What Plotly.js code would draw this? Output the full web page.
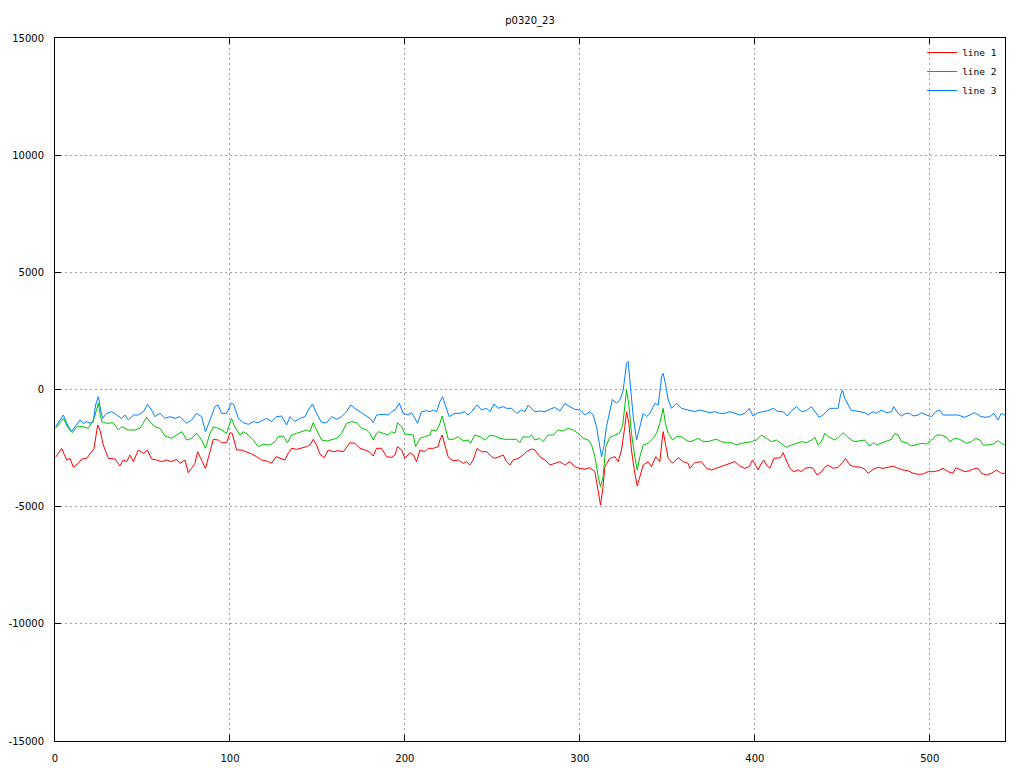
<!DOCTYPE html>
<html>
<head>
<meta charset="utf-8">
<script src="https://cdn.plot.ly/plotly-3.0.1.min.js"></script>
<style>html,body{margin:0;padding:0;background:#fff;}#chart{width:1024px;height:768px;}</style>
</head>
<body>
<div id="chart"></div>
<script>
const chartTitle = "p0320_23";
const seriesNames = ["line 1", "line 2", "line 3"];
const seriesColors = ["#ff0000", "#00c000", "#0080ff"];

// line 1 (red)
const x1 = [0.3,3.8,6.7,8.6,10.5,13.3,15.2,18.1,21,22.3,24.4,25.7,27.6,30.5,34.3,37.1,39,41,42.9,44.8,47.6,50.5,52.8,55.2,58.1,61,63.8,66.7,69.5,71.4,74.3,76.2,78.1,80,81.5,83.8,86,88.6,
90.5,93.3,95.2,98.1,100,101.3,103.8,106.7,109.5,112.4,115.2,118.1,121,123.8,126.3,128.6,131.4,133.3,135.2,138.1,141,143.8,145.7,147.6,149.5,151.4,153.9,156.2,159,161.9,164.8,166.7,168.6,171.4,174.3,177.1,179.6,181.9,183.8,
186.7,189.5,192.4,194.3,195.8,198.1,200,202.9,204.8,206.7,208.6,211.4,213.3,216.2,219,220,221.3,222.9,224.8,227.6,230.5,233.3,235.2,237.1,239,241.3,243.8,246.7,249.5,251.4,254.3,256.2,258.1,260,261.9,264.8,267.6,269.5,272.4,
274.3,277.1,280,282.9,285.7,288.6,291.4,294.3,297.1,300,302.9,305.7,308.6,310.5,311.8,313,314.3,317.1,320,321.9,323.8,325.7,326.7,328,329.5,331.1,332.8,334.3,336.2,339,340.9,343.4,345.7,347,347.6,348.9,350.5,353,356.2,359,361.9,
362.9,365.7,369.5,372.4,375.2,378.1,381,383.8,386.7,388.6,391.4,394.3,396.8,398.7,400.4,401.9,403.2,405.1,407.1,408.6,410.9,413.3,414.7,416.2,418.1,420,422.3,424.8,426.7,428.6,431.4,433.3,435.6,438.1,440,441.9,444.8,447.6,450.1,451.8,454.3,
457.1,460.9,462.9,464.8,467.6,470.5,473.3,476.2,479,481.9,484.8,487.6,490.5,493.3,496.2,499,501.9,504.8,507.6,510.5,513.3,514.9,517.1,520,522.9,525.7,527.6,529.5,532.4,535.2,538.1,540.9,542.9];
const y1 = [-2895,-2511,-3009,-2938,-3322,-3151,-2966,-2938,-2654,-2511,-1515,-1729,-2369,-2938,-2966,-3265,-3009,-3080,-2796,-3080,-2582,-2725,-2582,-2966,-3009,-3080,-3009,-3080,-2980,-3151,-3009,-3551,-3365,-3151,-2654,-3009,-3365,-2654,
-2126,-2155,-2270,-2270,-1843,-1871,-2582,-2582,-2654,-2753,-2867,-3009,-3051,-3151,-2867,-2938,-3009,-2725,-2511,-2554,-2511,-2441,-2369,-2126,-2369,-2753,-2910,-2582,-2654,-2611,-2654,-2441,-2270,-2297,-2511,-2582,-2654,-2840,-2511,
-2511,-2867,-2895,-2796,-2441,-2582,-2938,-2697,-2796,-3080,-2582,-2654,-2511,-2511,-2441,-2155,-1943,-2369,-2895,-3037,-3009,-3151,-3080,-3222,-3009,-2511,-2654,-2654,-2867,-2938,-2867,-2796,-3080,-3222,-3009,-2938,-2796,-2654,-2540,
-2582,-2868,-3009,-3222,-3151,-3080,-3222,-3080,-3294,-3365,-3400,-3336,-3507,-4289,-4929,-4289,-3294,-2938,-2868,-3080,-2582,-1587,-946,-1444,-2582,-3436,-4119,-3720,-3222,-3080,-3294,-2868,-3080,-2155,-1800,-2297,-2938,-3151,-2910,-3080,-3151,
-3365,-3122,-3080,-3365,-3436,-3365,-3294,-3222,-3122,-3080,-3265,-3365,-3294,-3009,-3222,-3436,-3222,-3009,-3265,-3365,-2938,-2938,-2910,-2697,-3009,-3365,-3507,-3436,-3507,-3365,-3322,-3365,-3649,-3507,-3322,-3222,-3365,-3322,-3122,-2938,-3222,
-3294,-3322,-3408,-3578,-3408,-3322,-3365,-3322,-3265,-3365,-3436,-3465,-3578,-3620,-3606,-3507,-3507,-3465,-3365,-3507,-3578,-3336,-3408,-3507,-3465,-3365,-3365,-3578,-3649,-3578,-3436,-3578,-3578];

// line 2 (green)
const x2 = [0.3,4.8,7.6,9.9,12.4,16.2,19,21.9,22.9,24.8,25.7,26.7,29.5,33.3,36.2,38.1,41.9,45.7,48.6,50.5,52.4,54.3,57.1,60,62.9,66.7,69.5,72.4,75.2,78.1,80.9,83.8,86,88.6,
90.5,92.4,95.2,98.1,100.9,102.8,105.7,107.6,110.5,113.3,116.2,119,122.9,125.7,127.6,130.5,132.8,135.2,138.1,141,143.8,145.7,147.6,149.5,152.4,155.2,158.1,161,163.8,166.7,169.5,172.4,175.2,178.1,180,181.9,183.8,
184.8,187.6,190.5,192.4,194.3,195.8,198.1,200,202.9,204.8,206.1,208.6,211.4,214.3,215.2,218.1,220,221.3,222.9,224.8,227.6,230.5,233.3,236.2,237.5,240,242.9,245.7,248.6,251.4,254.3,257.1,260,263.8,265.7,267.6,270.5,272.4,
274.3,277.1,279,281.9,284.8,287.6,290.5,293.3,296.2,299,301.9,304.8,306.7,308.6,310.5,311.8,313.3,314.8,317.1,320,322.5,324.4,325.7,326.7,328,329.5,331.4,332.8,334.3,336.2,339,341.9,343.8,345.7,347.6,348.9,350.5,353,355.2,358.1,361,
362.9,365.7,367.6,370.5,373.3,376.2,378.1,381,383.8,386.7,389.5,392.4,395.2,398.1,401,403.8,406.7,409.5,412.4,415.2,418.1,421,423.8,426.7,429.5,432.4,434.3,436.2,438.1,440,441.9,443.8,445.7,448.2,450.5,452.4,455.2,
457.1,460,462.9,465.7,468,469.5,472.4,475.2,478.1,480,481.9,483.8,486.7,489.5,492.4,495.2,498.1,501,503.8,506.7,509.5,511.4,514.3,517.1,520.9,523.8,526.3,528.6,530.5,533.3,536.2,539,540.9,542.9];
const y2 = [-1658,-1230,-1658,-1843,-1587,-1587,-1658,-1302,-1088,-590,-1017,-1373,-1444,-1416,-1729,-1587,-1729,-1729,-1658,-1444,-1188,-1373,-1587,-1658,-1985,-2084,-1956,-1800,-2155,-2084,-1871,-2155,-2511,-1871,
-1587,-1630,-1729,-1871,-1230,-1587,-1943,-1800,-1943,-2155,-2441,-2340,-2369,-2226,-2013,-1985,-2270,-1943,-1871,-1800,-1729,-1800,-1416,-1729,-2155,-2200,-2126,-2084,-1871,-1444,-1373,-1416,-1658,-1729,-1871,-2155,-1871,
-1800,-1871,-1943,-1800,-1871,-1416,-1587,-1900,-1943,-1943,-2441,-2084,-2013,-1943,-1729,-1758,-1444,-1131,-1587,-2126,-2126,-2013,-2200,-2155,-2297,-1943,-2013,-2155,-1943,-1985,-2084,-2126,-2126,-2126,-2270,-2013,-2041,-1943,
-2155,-2084,-2226,-1943,-1943,-1729,-1772,-1658,-1729,-1871,-2084,-2155,-2369,-2868,-3720,-4147,-3720,-2441,-2041,-1943,-1871,-1587,-590,-21,-662,-1871,-2868,-3436,-2868,-2369,-2297,-2084,-1871,-1444,-804,-1444,-1871,-2155,-2013,-2013,-2184,
-2226,-2155,-2084,-2226,-2226,-2155,-2126,-2226,-2270,-2270,-2369,-2297,-2270,-2226,-2155,-1943,-2084,-2226,-2155,-2297,-2469,-2369,-2297,-2226,-2270,-2155,-2041,-2369,-2226,-1871,-2013,-2084,-2155,-2013,-1843,-1985,-2155,
-2226,-2184,-2155,-2412,-2270,-2369,-2297,-2200,-2126,-1871,-1943,-2226,-2270,-2412,-2369,-2297,-2326,-2155,-1943,-1943,-2041,-2226,-2084,-2126,-2297,-2226,-2084,-2155,-2369,-2369,-2326,-2184,-2297,-2369];

// line 3 (blue)
const x3 = [0.3,4.8,6.7,9.5,11.4,14.3,16.2,18.1,20,21.9,23.2,24.8,26.1,27.2,29.5,32.4,35.2,38.1,40,41.9,44.8,47.6,50.5,52.9,55.2,57.1,60,62.9,65.7,68.6,71.4,75.2,78.1,80.9,83.8,86,88.6,
91.4,93.3,95.2,98.1,100.9,102.2,104.8,107.6,110.5,113.3,116.2,119,121,123.8,126.7,129.5,132.4,134.3,137.1,140,142.9,144.8,147.2,149.5,152.4,155.2,158.1,161,163.8,166.7,169,171.4,174.3,177.1,180,181.9,183.8,
187.6,190.5,192.4,194.3,196.8,199,201.9,203.8,205.7,207.2,209.5,212.4,214.3,216.2,218.1,220,221.5,223.4,225.3,228.6,231.4,234.3,236.2,238.1,241.3,243.8,246.7,248.6,250.9,253.3,256.2,258.1,261,263.8,266.7,268.6,270.5,273.3,
274.3,277.1,280,282.9,285.7,288.6,291.4,294.3,297.1,300,302.9,305.7,307.6,309.5,311.4,312.4,313.7,315.2,317.1,318.6,320.9,322.9,324.8,326.7,327.6,328.6,330.5,332.4,334.3,336.2,338.1,340,342.9,344.8,346.7,347.6,348.9,350.5,352.4,355.2,358.1,361,363.8,
365.7,368.6,371.4,374.3,377.1,380,382.9,385.7,388.6,391.4,394.3,396.8,399,401.9,404.8,407.6,410.5,413.3,416.2,418.5,421,423.8,426.7,429.5,432.4,434.9,436.8,439,441,442.9,445.7,447.6,449,450.1,451.4,453.3,455.2,
457.1,460,462.9,464.8,467.6,469.5,472.4,475.2,478.1,479.4,481.9,483.8,486.3,488.6,490.5,493.3,495.2,498.1,501,503.4,505.7,507.6,510.5,513.3,516.2,520,522.9,525.7,528.6,531.4,534.3,536.6,539,540.9,542.9];
const y3 = [-1587,-1088,-1444,-1800,-1587,-1302,-1444,-1373,-1444,-1373,-662,-306,-875,-1230,-1017,-946,-1088,-1230,-1088,-1302,-1088,-1088,-946,-633,-875,-1159,-1017,-1230,-1159,-1230,-1159,-1444,-1302,-1017,-1159,-1800,-1302,
-733,-662,-1017,-1017,-562,-662,-1230,-1416,-1487,-1373,-1416,-1302,-1230,-1373,-1159,-1131,-1515,-1159,-1373,-1230,-1159,-875,-619,-1017,-1416,-1416,-1159,-1266,-1159,-946,-662,-804,-946,-1088,-1230,-1416,-1088,
-1060,-1088,-946,-875,-590,-1017,-1088,-990,-1230,-1444,-946,-904,-946,-875,-946,-519,-306,-733,-1159,-1017,-1017,-946,-1088,-946,-662,-875,-804,-946,-619,-804,-733,-804,-804,-1017,-875,-946,-662,-875,
-946,-917,-946,-847,-762,-917,-590,-733,-847,-875,-1088,-946,-1088,-1587,-2441,-2868,-2441,-1587,-946,-418,-590,-448,-21,1117,1188,405,-1159,-2155,-1587,-1017,-1159,-1017,-590,-662,548,690,263,-448,-804,-590,-804,-847,-904,
-946,-875,-946,-990,-946,-1017,-1017,-946,-1017,-1088,-1017,-804,-1131,-990,-946,-904,-804,-946,-946,-1131,-904,-733,-946,-904,-733,-990,-1188,-1088,-946,-804,-804,-804,-235,-21,-377,-662,-904,
-904,-946,-990,-1088,-946,-1017,-875,-990,-946,-733,-1017,-1131,-1017,-1017,-1131,-1088,-990,-1088,-1159,-946,-875,-1088,-1088,-1088,-1088,-1188,-1088,-990,-1131,-1188,-1159,-1017,-1302,-1017,-1088];

const xTicks = [0, 100, 200, 300, 400, 500];
const yTicks = [-15000, -10000, -5000, 0, 5000, 10000, 15000];

const xs = [x1, x2, x3];
const ys = [y1, y2, y3];
const traces = seriesNames.map((n, i) => ({
  x: xs[i], y: ys[i], name: n, type: 'scatter', mode: 'lines',
  line: {color: seriesColors[i], width: 1}
}));

const axisCommon = {
  showline: true, linecolor: '#000', linewidth: 1, mirror: 'ticks',
  ticks: 'inside', ticklen: 6, tickcolor: '#000', tickwidth: 1,
  showgrid: true, gridcolor: '#a0a0a0', griddash: '2px,3px', gridwidth: 1,
  zeroline: false, tickfont: {family: 'DejaVu Sans, sans-serif', size: 10, color: '#000'}
};

const layout = {
  width: 1024, height: 768,
  margin: {l: 55, r: 19, t: 38, b: 27, pad: 0},
  paper_bgcolor: '#fff', plot_bgcolor: '#fff',
  title: {text: chartTitle, x: 0.5, xref: 'paper', y: 1 - 20/768, yref: 'container', yanchor: 'middle',
          font: {family: 'DejaVu Sans, sans-serif', size: 10, color: '#000'}},
  xaxis: Object.assign({}, axisCommon, {range: [0, 543], tickvals: xTicks, ticktext: xTicks.map(String), ticklabelstandoff: 8}),
  yaxis: Object.assign({}, axisCommon, {range: [-15000, 15000], tickvals: yTicks, ticktext: yTicks.map(String), ticklabelstandoff: 8}),
  showlegend: true,
  legend: {x: 0.997, y: 1.0, xanchor: 'right', yanchor: 'top', bgcolor: 'rgba(0,0,0,0)',
           font: {family: 'DejaVu Sans Mono, monospace', size: 9.5, color: '#000'}, tracegroupgap: 0, itemwidth: 30}
};

Plotly.newPlot('chart', traces, layout, {displayModeBar: false, staticPlot: true});
</script>
</body>
</html>
